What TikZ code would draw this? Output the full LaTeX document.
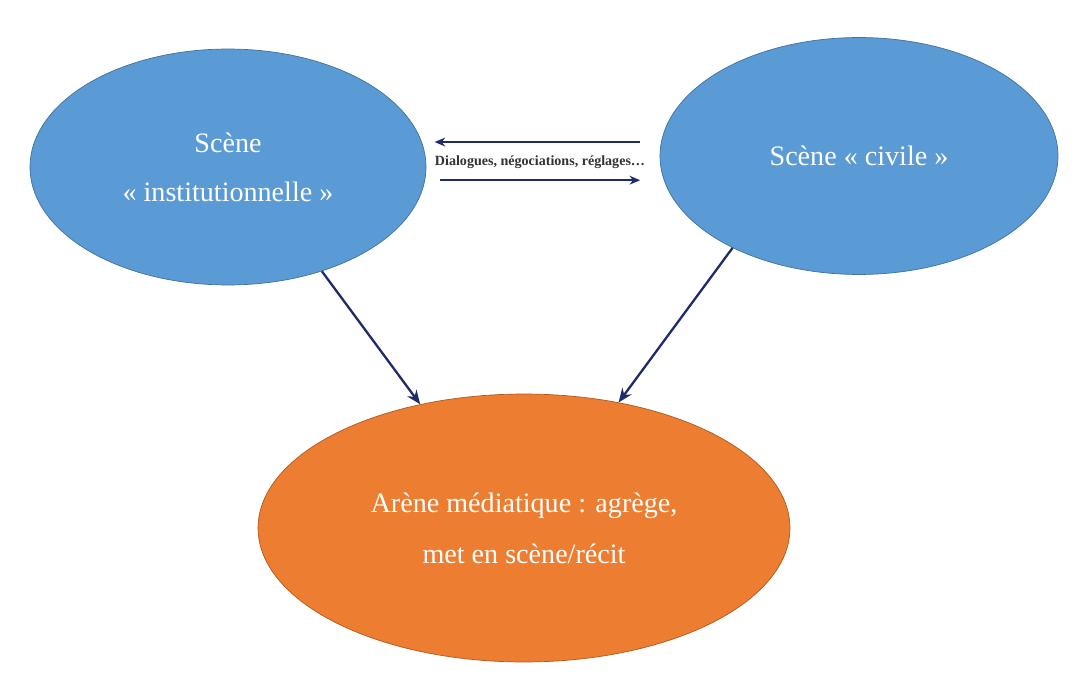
\documentclass[tikz,border=0pt]{standalone}
\usepackage{fontspec}
\setmainfont{Liberation Serif}
\usepackage{tikz}
\usetikzlibrary{arrows.meta,shapes.geometric}

\definecolor{sceneblue}{HTML}{5B9BD5}
\definecolor{sceneedge}{HTML}{41719C}
\definecolor{arenaorange}{HTML}{ED7D31}
\definecolor{arenaedge}{HTML}{AE5A21}
\definecolor{flownavy}{HTML}{1F2A6B}

\tikzset{
  scene/.style={ellipse, fill=sceneblue, draw=sceneedge, line width=0.4pt, text=white, align=center, font=\fontsize{16}{28}\selectfont, inner sep=0pt},
  arena/.style={ellipse, fill=arenaorange, draw=arenaedge, line width=0.4pt, text=white, align=center, font=\fontsize{16}{29}\selectfont, inner sep=0pt},
  flow/.style={draw=flownavy, line width=1.3pt, -{Stealth[length=8pt,width=6.5pt]}},
  talk/.style={draw=flownavy, line width=1pt, -{Stealth[length=6pt,width=5pt]}}
}

\begin{document}
\begin{tikzpicture}[x=0.02cm, y=-0.02cm]
		%%%%% START %%%%%
		\useasboundingbox[fill=white] (0,0) rectangle (1084,682);
		
		\node[scene, minimum width=7.92cm, minimum height=4.72cm] (inst) at (228,167) {Scène\\« institutionnelle »};
		\node[scene, minimum width=7.96cm, minimum height=4.74cm] (civ) at (859,156) {Scène « civile »};
		\node[arena, minimum width=10.64cm, minimum height=5.36cm] (arena) at (524,528) {Arène médiatique : agrège,\\met en scène/récit};
		
		\node[inner sep=0pt, font=\fontsize{8}{10}\selectfont\bfseries, text=black!80] (dlg) at (540,162) {Dialogues, négociations, réglages…};
		
		\draw[talk] ([shift={(-3pt,7.5pt)}]dlg.north east) -- ([shift={(0pt,7.5pt)}]dlg.north west);
		\draw[talk] ([shift={(3pt,-6.5pt)}]dlg.south west) -- ([shift={(-3pt,-6.5pt)}]dlg.south east);
		
		\draw[flow] (inst.-48) -- (arena.130);
		\draw[flow] (civ.-144) -- (arena.53);
		%%%%% END %%%%%
\end{tikzpicture}
\end{document}
